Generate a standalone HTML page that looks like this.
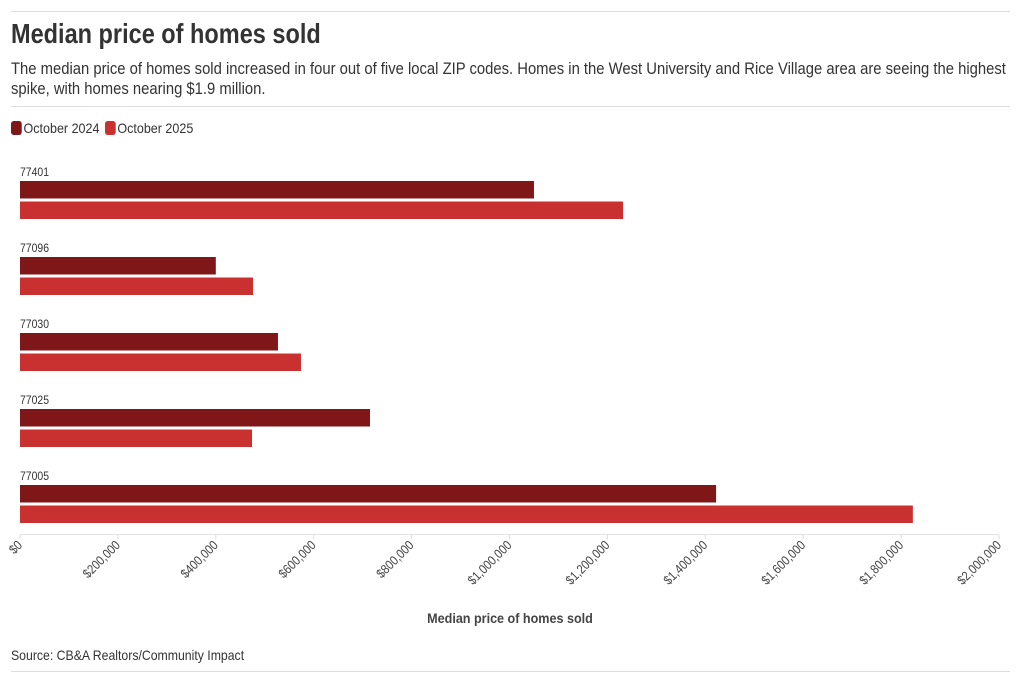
<!DOCTYPE html>
<html><head><meta charset="utf-8"><style>
body{margin:0;width:1020px;height:683px;background:#fff;font-family:"Liberation Sans",sans-serif;color:#333;position:relative;overflow:hidden}
.hr{position:absolute;left:11px;width:999px;height:1px;background:#ddd}
.sq{transform-origin:0 0;white-space:nowrap}
#title{position:absolute;left:11px;top:18px;font-size:28px;font-weight:bold;color:#333;transform:scaleX(0.84)}
#sub{position:absolute;left:11px;top:59px;font-size:16.5px;line-height:20px;color:#333;transform:scaleX(0.898)}
#legend{position:absolute;left:11px;top:120px;font-size:14px;display:flex;align-items:center;transform:scaleX(0.895)}
.sw{display:inline-block;width:12px;height:14px;border-radius:3px;margin-right:2px}
#src{position:absolute;left:11px;top:647px;font-size:14px;transform:scaleX(0.876)}
svg{position:absolute;left:0;top:0}
</style></head><body>
<div class="hr" style="top:11px"></div>
<div id="title" class="sq">Median price of homes sold</div>
<div id="sub" class="sq">The median price of homes sold increased in four out of five local ZIP codes. Homes in the West University and Rice Village area are seeing the highest<br>spike, with homes nearing $1.9 million.</div>
<div class="hr" style="top:106px"></div>
<div id="legend" class="sq">
<span class="sw" style="background:#7f1719"></span><span style="margin-right:6px">October 2024</span>
<span class="sw" style="background:#c8312f"></span><span>October 2025</span>
</div>
<svg id="chart" width="1020" height="683"></svg>
<div id="src" class="sq">Source: CB&amp;A Realtors/Community Impact</div>
<div class="hr" style="top:671px"></div>
<script>
const categories=["77401","77096","77030","77025","77005"];
const oct2024=[1050000,400000,527000,715000,1422000];
const oct2025=[1232000,476000,574000,474000,1824000];
const ticks=[0,200000,400000,600000,800000,1000000,1200000,1400000,1600000,1800000,2000000];
const tickLabels=["$0","$200,000","$400,000","$600,000","$800,000","$1,000,000","$1,200,000","$1,400,000","$1,600,000","$1,800,000","$2,000,000"];
const NS="http://www.w3.org/2000/svg";
const svg=document.getElementById('chart');
const x0=20,x1=999,maxV=2000000;
const xs=v=>x0+(v/maxV)*(x1-x0);
const yTop=181,step=76,bh=17.5;
function mk(t,a){const e=document.createElementNS(NS,t);for(const k in a)e.setAttribute(k,a[k]);svg.appendChild(e);return e;}
const ax=mk('line',{x1:x0,x2:x1,y1:534.5,y2:534.5,stroke:'#e3e3e3'});


categories.forEach((c,i)=>{
  const y=yTop+i*step;
  const t=mk('text',{x:20,y:y-5,'font-size':12,fill:'#333','font-family':'"Liberation Sans",sans-serif',transform:`translate(20 0) scale(0.87 1) translate(-20 0)`});
  t.textContent=c;
  
  
  const b1=mk('rect',{x:x0,y:y,width:xs(oct2024[i])-x0,height:bh,fill:'#7f1719'});
  
  
  const b2=mk('rect',{x:x0,y:y+20.5,width:xs(oct2025[i])-x0,height:bh,fill:'#c8312f'});
  
  
});
ticks.forEach((v,i)=>{
  const x=xs(v);
  const tk=mk('line',{x1:x,x2:x,y1:535,y2:539,stroke:'#ddd'});
  
  
  const t=mk('text',{x:x+3,y:546,'font-size':13,fill:'#444','text-anchor':'end',transform:`rotate(-45 ${x+3} 546) translate(${x+3} 0) scale(0.86 1) translate(${-(x+3)} 0)`,'font-family':'"Liberation Sans",sans-serif'});
  t.textContent=tickLabels[i];
  
  
});
const at=mk('text',{x:510,y:623,'font-size':14,'font-weight':'bold',fill:'#444','text-anchor':'middle','font-family':'"Liberation Sans",sans-serif',transform:'translate(510 0) scale(0.9 1) translate(-510 0)'});
at.textContent='Median price of homes sold';


</script>
</body></html>
